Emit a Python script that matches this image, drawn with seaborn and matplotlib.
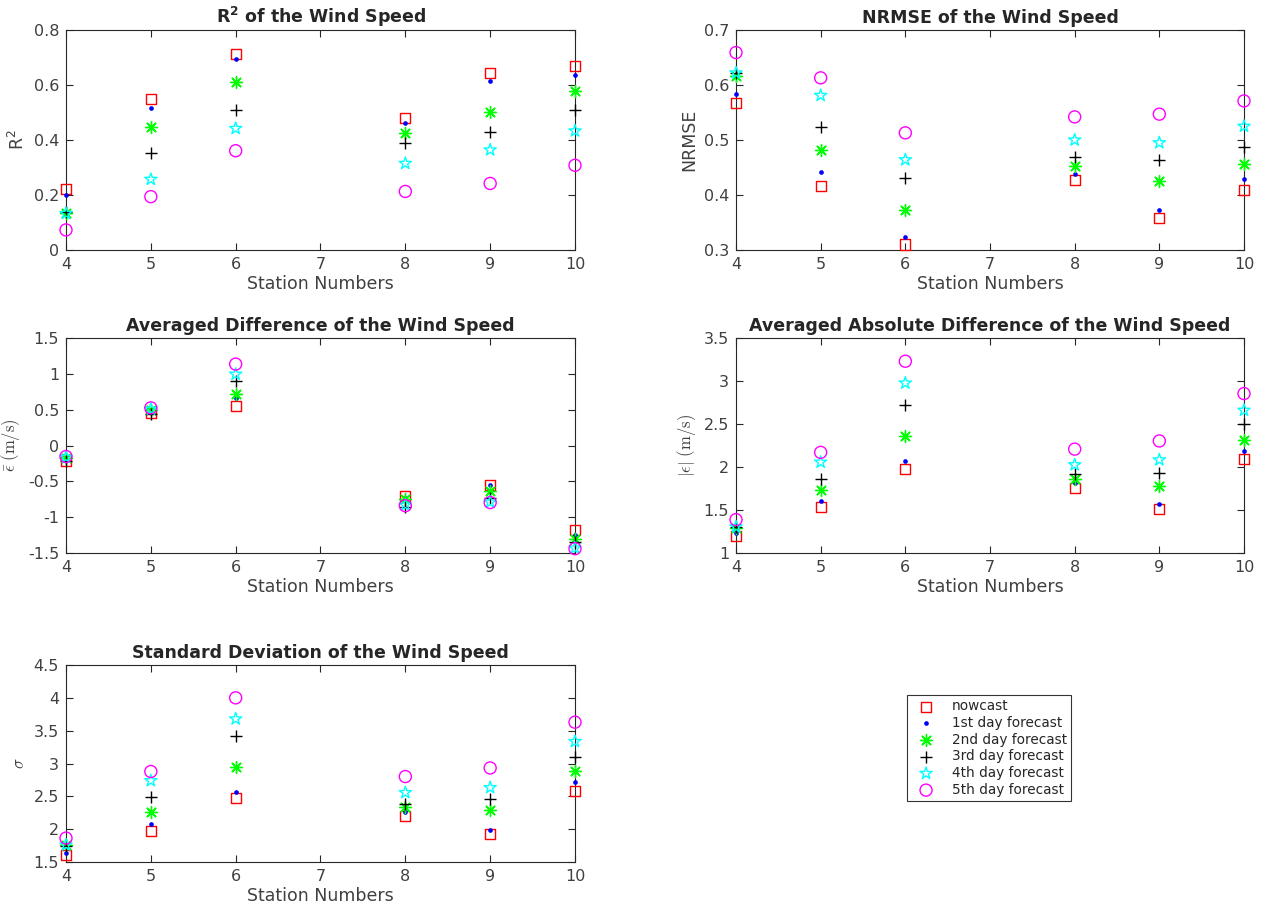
import matplotlib
matplotlib.use("Agg")
import matplotlib.pyplot as plt
import seaborn as sns
import pandas as pd

stations = [4, 5, 6, 8, 9, 10]
series_names = ["nowcast", "1st day forecast", "2nd day forecast",
                "3rd day forecast", "4th day forecast", "5th day forecast"]

# R^2 of wind speed per series
r2_now = [0.221, 0.548, 0.711, 0.479, 0.645, 0.670]
r2_d1 = [0.200, 0.516, 0.695, 0.461, 0.616, 0.638]
r2_d2 = [0.136, 0.446, 0.611, 0.424, 0.503, 0.578]
r2_d3 = [0.138, 0.352, 0.510, 0.388, 0.428, 0.509]
r2_d4 = [0.133, 0.257, 0.442, 0.315, 0.364, 0.433]
r2_d5 = [0.073, 0.194, 0.361, 0.213, 0.242, 0.308]

# NRMSE
nrmse_now = [0.568, 0.417, 0.310, 0.428, 0.358, 0.409]
nrmse_d1 = [0.584, 0.442, 0.324, 0.439, 0.372, 0.429]
nrmse_d2 = [0.617, 0.481, 0.372, 0.452, 0.425, 0.456]
nrmse_d3 = [0.621, 0.524, 0.431, 0.470, 0.464, 0.488]
nrmse_d4 = [0.622, 0.581, 0.464, 0.500, 0.495, 0.525]
nrmse_d5 = [0.659, 0.613, 0.513, 0.542, 0.547, 0.571]

# averaged difference (m/s)
diff_now = [-0.21, 0.45, 0.557, -0.70, -0.548, -1.18]
diff_d1 = [-0.17, 0.49, 0.66, -0.73, -0.548, -1.25]
diff_d2 = [-0.18, 0.493, 0.719, -0.75, -0.633, -1.30]
diff_d3 = [-0.22, 0.44, 0.905, -0.86, -0.738, -1.35]
diff_d4 = [-0.163, 0.507, 0.995, -0.83, -0.79, -1.43]
diff_d5 = [-0.154, 0.525, 1.136, -0.84, -0.796, -1.44]

# averaged absolute difference (m/s)
absdiff_now = [1.198, 1.532, 1.980, 1.752, 1.517, 2.090]
absdiff_d1 = [1.228, 1.608, 2.071, 1.809, 1.566, 2.189]
absdiff_d2 = [1.296, 1.729, 2.360, 1.855, 1.783, 2.318]
absdiff_d3 = [1.300, 1.862, 2.721, 1.923, 1.931, 2.497]
absdiff_d4 = [1.304, 2.056, 2.976, 2.026, 2.083, 2.660]
absdiff_d5 = [1.388, 2.170, 3.230, 2.208, 2.303, 2.854]

# standard deviation
std_now = [1.602, 1.968, 2.480, 2.199, 1.919, 2.584]
std_d1 = [1.638, 2.072, 2.561, 2.262, 1.991, 2.715]
std_d2 = [1.765, 2.262, 2.950, 2.330, 2.294, 2.891]
std_d3 = [1.750, 2.489, 3.412, 2.380, 2.466, 3.095]
std_d4 = [1.760, 2.738, 3.679, 2.557, 2.633, 3.335]
std_d5 = [1.864, 2.878, 4.000, 2.801, 2.932, 3.629]

panels = [
    dict(title=r"$\mathbf{R^2}$ of the Wind Speed", ylabel=r"R$^2$",
         data=[r2_now, r2_d1, r2_d2, r2_d3, r2_d4, r2_d5],
         ylim=(0, 0.8), yticks=[0, 0.2, 0.4, 0.6, 0.8],
         yticklabels=["0", "0.2", "0.4", "0.6", "0.8"], tex=False),
    dict(title="NRMSE of the Wind Speed", ylabel="NRMSE",
         data=[nrmse_now, nrmse_d1, nrmse_d2, nrmse_d3, nrmse_d4, nrmse_d5],
         ylim=(0.3, 0.7), yticks=[0.3, 0.4, 0.5, 0.6, 0.7],
         yticklabels=["0.3", "0.4", "0.5", "0.6", "0.7"], tex=False),
    dict(title="Averaged Difference of the Wind Speed",
         ylabel=r"$\bar{\epsilon}\ \mathrm{(m/s)}$",
         data=[diff_now, diff_d1, diff_d2, diff_d3, diff_d4, diff_d5],
         ylim=(-1.5, 1.5), yticks=[-1.5, -1, -0.5, 0, 0.5, 1, 1.5],
         yticklabels=["-1.5", "-1", "-0.5", "0", "0.5", "1", "1.5"], tex=True),
    dict(title="Averaged Absolute Difference of the Wind Speed",
         ylabel=r"$|\epsilon|\ \mathrm{(m/s)}$",
         data=[absdiff_now, absdiff_d1, absdiff_d2, absdiff_d3, absdiff_d4, absdiff_d5],
         ylim=(1, 3.5), yticks=[1, 1.5, 2, 2.5, 3, 3.5],
         yticklabels=["1", "1.5", "2", "2.5", "3", "3.5"], tex=True),
    dict(title="Standard Deviation of the Wind Speed", ylabel=r"$\sigma$",
         data=[std_now, std_d1, std_d2, std_d3, std_d4, std_d5],
         ylim=(1.5, 4.5), yticks=[1.5, 2, 2.5, 3, 3.5, 4, 4.5],
         yticklabels=["1.5", "2", "2.5", "3", "3.5", "4", "4.5"], tex=True),
]

# marker styling per series: (marker, colour, size, filled)
styles = [
    ("s", "#ff0000", 52, False),
    (".", "#0000ff", 45, True),
    ((8, 2, 0), "#00ff00", 75, True),
    ("+", "#000000", 80, True),
    ("*", "#00ffff", 85, False),
    ("o", "#ff00ff", 75, False),
]

sns.set_theme(style="white")
plt.rcParams["font.family"] = ["DejaVu Sans"]
plt.rcParams["mathtext.fontset"] = "cm"

W, H = 1265, 909
fig = plt.figure(figsize=(W / 100, H / 100), dpi=100)

boxes = [
    (66, 30, 575, 250), (736, 30, 1244, 250),
    (66, 338, 575, 553), (736, 338, 1244, 553),
    (66, 665, 575, 862),
]

axis_col = "#262626"
text_col = "#404040"
for (x0, y0, x1, y1), p in zip(boxes, panels):
    ax = fig.add_axes([x0 / W, 1 - y1 / H, (x1 - x0) / W, (y1 - y0) / H])
    for name, vals, (mk, col, s, filled) in zip(series_names, p["data"], styles):
        df = pd.DataFrame({"station": stations, "value": vals})
        if filled:
            sns.scatterplot(data=df, x="station", y="value", ax=ax, marker=mk,
                            color=col, s=s, linewidth=1.0 if mk != "." else 0,
                            label=name, zorder=3, clip_on=False)
        else:
            sns.scatterplot(data=df, x="station", y="value", ax=ax, marker=mk,
                            facecolor="none", edgecolor=col, s=s, linewidth=1.0,
                            label=name, zorder=3, clip_on=False)
    if ax.get_legend() is not None:
        ax.get_legend().remove()
    ax.set_xlim(4, 10)
    ax.set_ylim(*p["ylim"])
    ax.set_xticks([4, 5, 6, 7, 8, 9, 10])
    ax.set_yticks(p["yticks"])
    ax.set_yticklabels(p["yticklabels"])
    ax.tick_params(direction="in", length=5, width=0.8, top=True, right=True,
                   bottom=True, left=True, labelsize=11.5, colors=axis_col,
                   labelcolor=text_col, pad=5)
    for sp in ax.spines.values():
        sp.set_color(axis_col)
        sp.set_linewidth(0.8)
    ax.set_title(p["title"], fontsize=12.5, fontweight="bold", pad=5,
                 math_fontfamily="dejavusans")
    ax.set_xlabel("Station Numbers", fontsize=12.5, color=text_col, labelpad=2)
    if p["tex"]:
        ax.set_ylabel(p["ylabel"], fontsize=12, color=text_col, labelpad=4)
    else:
        ax.set_ylabel(p["ylabel"], fontsize=12.5, color=text_col, labelpad=4,
                      math_fontfamily="dejavusans")
    if p is panels[0]:
        handles, labels = ax.get_legend_handles_labels()

leg = fig.legend(handles, labels, loc="upper left",
                 bbox_to_anchor=(907 / W, 1 - 695 / H), fontsize=9.8,
                 frameon=True, fancybox=False, edgecolor="#000000",
                 borderpad=0.3, labelspacing=0.2, handletextpad=0.8,
                 handlelength=2.2, borderaxespad=0)
leg.get_frame().set_linewidth(0.8)
for t in leg.get_texts():
    t.set_color("#262626")

fig.savefig("out.png", dpi=100, facecolor="white")
